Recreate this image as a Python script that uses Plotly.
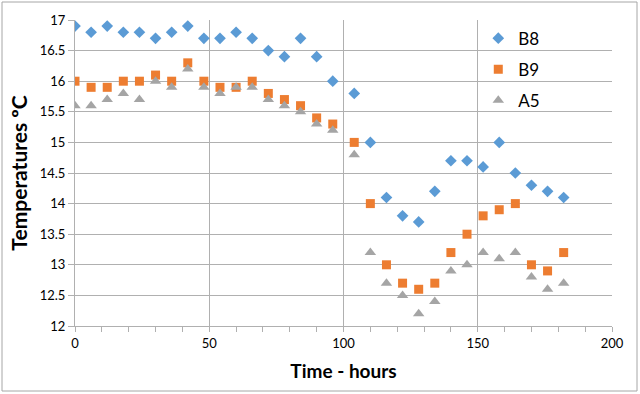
import plotly.graph_objects as go

time_b8 = [0, 6, 12, 18, 24, 30, 36, 42, 48, 54, 60, 66, 72, 78, 84, 90, 96,
           104, 110, 116, 122, 128, 134, 140, 146, 152, 158, 164, 170, 176, 182]
b8 = [16.9, 16.8, 16.9, 16.8, 16.8, 16.7, 16.8, 16.9, 16.7, 16.7, 16.8, 16.7, 16.5, 16.4, 16.7, 16.4, 16.0,
      15.8, 15.0, 14.1, 13.8, 13.7, 14.2, 14.7, 14.7, 14.6, 15.0, 14.5, 14.3, 14.2, 14.1]
b9 = [16.0, 15.9, 15.9, 16.0, 16.0, 16.1, 16.0, 16.3, 16.0, 15.9, 15.9, 16.0, 15.8, 15.7, 15.6, 15.4, 15.3,
      15.0, 14.0, 13.0, 12.7, 12.6, 12.7, 13.2, 13.5, 13.8, 13.9, 14.0, 13.0, 12.9, 13.2]
a5 = [15.6, 15.6, 15.7, 15.8, 15.7, 16.0, 15.9, 16.2, 15.9, 15.8, 15.9, 15.9, 15.7, 15.6, 15.5, 15.3, 15.2,
      14.8, 13.2, 12.7, 12.5, 12.2, 12.4, 12.9, 13.0, 13.2, 13.1, 13.2, 12.8, 12.6, 12.7]

series_names = ["B8", "B9", "A5"]
series_values = [b8, b9, a5]
series_colors = ["#5B9BD5", "#ED7D31", "#A5A5A5"]
series_symbols = ["diamond", "square", "triangle-up"]
series_sizes = [9, 9, 10]

x_ticks = [0, 50, 100, 150, 200]
y_ticks = [12, 12.5, 13, 13.5, 14, 14.5, 15, 15.5, 16, 16.5, 17]

FONT = "Lato, 'Open Sans', sans-serif"
GRID = "#B0B0B0"

fig = go.Figure()
for i, (name, vals, col, sym, sz) in enumerate(zip(series_names, series_values, series_colors,
                                                   series_symbols, series_sizes)):
    fig.add_trace(go.Scatter(
        x=time_b8, y=vals, mode="markers", name=name, legendgroup=name,
        marker=dict(symbol=sym, size=sz, color=col, line=dict(width=0)),
    ))

fig.update_layout(
    width=640, height=394,
    margin=dict(l=75, r=28, t=20, b=68, autoexpand=False),
    paper_bgcolor="white", plot_bgcolor="white",
    font=dict(family=FONT, color="#404040", size=13),
    showlegend=True,
    legend=dict(
        x=0.751, y=0.998, xanchor="left", yanchor="top",
        bgcolor="rgba(0,0,0,0)", borderwidth=0,
        font=dict(family=FONT, size=17, color="#000000"),
        traceorder="grouped", tracegroupgap=6,
        itemwidth=30,
    ),
    xaxis=dict(
        range=[0, 200], tickvals=x_ticks, ticktext=[str(v) for v in x_ticks],
        showgrid=True, gridcolor=GRID, gridwidth=1,
        showline=True, linecolor=GRID, linewidth=1,
        ticks="outside", ticklen=5, tickcolor=GRID,
        minor=dict(dtick=10, ticks="outside", ticklen=5, tickcolor=GRID, showgrid=False),
        zeroline=False, automargin=False,
        tickfont=dict(family=FONT, size=13, color="#000000"),
        title=dict(text="<b>Time - hours</b>", font=dict(family=FONT, size=19, color="#000000"),
                   standoff=15),
    ),
    yaxis=dict(
        range=[12, 17], tickvals=y_ticks, ticktext=[f"{v:g}" for v in y_ticks],
        showgrid=True, gridcolor=GRID, gridwidth=1,
        showline=True, linecolor=GRID, linewidth=1,
        ticks="outside", ticklen=6, tickcolor=GRID,
        zeroline=False, automargin=False,
        tickfont=dict(family=FONT, size=13, color="#000000"),
        title=dict(text="<b>Temperatures ºC</b>", font=dict(family=FONT, size=21, color="#000000"),
                   standoff=6),
    ),
)

# outer chart border
pw, ph = 537.0, 306.0
fig.add_shape(type="rect", xref="paper", yref="paper",
              x0=(2 - 75) / pw, x1=(637 - 75) / pw,
              y0=(326 - 391) / ph, y1=(326 - 2) / ph,
              line=dict(color="#A6A6A6", width=1), fillcolor="rgba(0,0,0,0)", layer="below")

fig.write_html("out.html", config={"displayModeBar": False},
               post_script="document.body.style.margin='0';document.body.style.overflow='hidden';")
